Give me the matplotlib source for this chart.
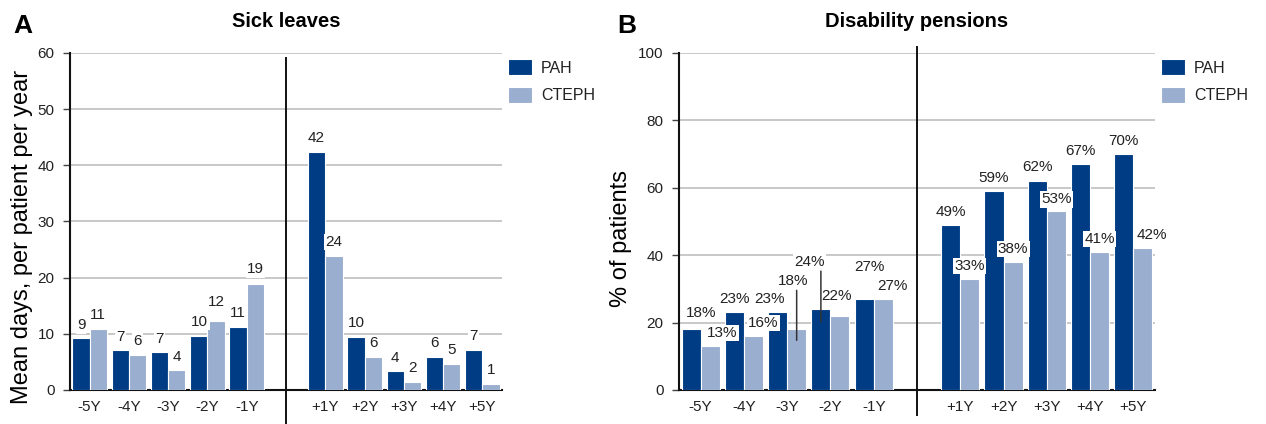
import numpy as np
import matplotlib.pyplot as plt
import matplotlib.transforms as mtransforms

plt.rcParams['font.family'] = ['Liberation Sans', 'DejaVu Sans']

# x positions: 5 years before, gap, 5 years after
years = ['-5Y', '-4Y', '-3Y', '-2Y', '-1Y', '+1Y', '+2Y', '+3Y', '+4Y', '+5Y']
xpos = [0, 1, 2, 3, 4, 6, 7, 8, 9, 10]

# A: sick leaves, mean days per patient per year
sick_pah = [9.2, 7.1, 6.7, 9.7, 11.3, 42.4, 9.5, 3.4, 5.8, 7.1]
sick_cteph = [10.9, 6.3, 3.6, 12.2, 18.8, 23.9, 5.8, 1.5, 4.6, 1.1]
sick_pah_lbl = ['9', '7', '7', '10', '11', '42', '10', '4', '6', '7']
sick_cteph_lbl = ['11', '6', '4', '12', '19', '24', '6', '2', '5', '1']

# B: disability pensions, % of patients
dis_pah = [18, 23, 23, 24, 27, 49, 59, 62, 67, 70]
dis_cteph = [13, 16, 18, 22, 27, 33, 38, 53, 41, 42]

PAH_C = '#003c84'
CTEPH_C = '#9aaed0'
W = 0.44

# label offsets in pixels (dx, dy) from bar top centre
sick_pah_off = [(0, 13), (0, 13), (0, 13), (1, 14), (0, 14), (0, 14), (0, 14), (0, 13), (0, 14), (0, 14)]
sick_cteph_off = [(0, 14), (0, 14), (0, 13), (0, 19), (0, 15), (0, 14), (0, 14), (0, 14), (0, 14), (0, 14)]
dis_pah_off = [(10, 16), (0, 13), (-8, 13), (-11, 47), (5, 32), (0, 13), (0, 13), (0, 14), (0, 13), (0, 13)]
dis_cteph_off = [(12, 13), (10, 13), (-4, 48), (-3, 20), (9, 13), (0, 13), (0, 13), (0, 12), (0, 13), (9, 13)]
# leader lines: index -> (pixels into bar, pixels above bar top)
dis_pah_lead = {3: (13, 38)}
dis_cteph_lead = {2: (11, 39)}


def label_bars(ax, xs, vals, lbls, offs, leads, suffix=''):
    fig = ax.figure
    for i, (x, v, t, o) in enumerate(zip(xs, vals, lbls, offs)):
        if i in leads:
            below, above = leads[i]
            tr = mtransforms.offset_copy(ax.transData, fig=fig, x=0, y=-below, units='dots')
            ax.annotate('', xy=(x, v), xycoords=tr, xytext=(0, below + above),
                        textcoords='offset pixels',
                        arrowprops=dict(arrowstyle='-', color='#333333', lw=1.1,
                                        shrinkA=0, shrinkB=0),
                        zorder=6)
        ax.annotate(f'{t}{suffix}', xy=(x, v), xytext=o, textcoords='offset pixels',
                    ha='center', va='center', fontsize=11, color='#222222',
                    bbox=dict(boxstyle='square,pad=0.08', fc='white', ec='none'),
                    zorder=5)


def draw_panel(ax, pah, cteph, pah_lbl, cteph_lbl, pah_off, cteph_off,
               pah_lead, cteph_lead, ymax, ystep, suffix, sep_top, sep_bot):
    x = np.array(xpos)
    ax.bar(x - W / 2, pah, W, color=PAH_C, edgecolor='white', linewidth=0.8,
           label='PAH', zorder=3)
    ax.bar(x + W / 2, cteph, W, color=CTEPH_C, edgecolor='white', linewidth=0.8,
           label='CTEPH', zorder=3)
    label_bars(ax, x - W / 2, pah, pah_lbl, pah_off, pah_lead, suffix)
    label_bars(ax, x + W / 2, cteph, cteph_lbl, cteph_off, cteph_lead, suffix)

    ax.set_xlim(-0.5, 10.5)
    ax.set_ylim(0, ymax)
    ax.set_yticks(np.arange(0, ymax + 1, ystep))
    ax.set_xticks(x)
    ax.set_xticklabels(years)
    ax.tick_params(axis='x', length=0, pad=7, labelsize=11, labelcolor='#222222')
    ax.tick_params(axis='y', length=5, width=1, color='#444444', pad=6,
                   labelsize=11, labelcolor='#222222')
    ax.grid(axis='y', color='#c8c8c8', lw=1.4, zorder=0)
    ax.set_axisbelow(True)
    for s in ['top', 'right']:
        ax.spines[s].set_visible(False)
    for s in ['left', 'bottom']:
        ax.spines[s].set_linewidth(1.5)
        ax.spines[s].set_color('#111111')

    # vertical separator between before / after
    tr = mtransforms.blended_transform_factory(ax.transData, ax.transAxes)
    ax.plot([5, 5], [sep_bot, sep_top], color='#111111', lw=1.4,
            transform=tr, clip_on=False, zorder=4)

    ax.legend(loc='upper left', bbox_to_anchor=(1.0, 1.0), frameon=False,
              fontsize=11.5, handlelength=1.5, handleheight=1.15,
              labelspacing=0.7, handletextpad=0.55, borderaxespad=0.0,
              labelcolor='#222222')


fig = plt.figure(figsize=(12.66, 4.24), dpi=100)
axA = fig.add_axes([0.0553, 0.0802, 0.3412, 0.7948])
axB = fig.add_axes([0.5363, 0.0802, 0.3760, 0.7948])

draw_panel(axA, sick_pah, sick_cteph, sick_pah_lbl, sick_cteph_lbl,
           sick_pah_off, sick_cteph_off, {}, {}, 60, 10, '', 0.985, -0.11)
draw_panel(axB, dis_pah, dis_cteph, dis_pah, dis_cteph,
           dis_pah_off, dis_cteph_off, dis_pah_lead, dis_cteph_lead,
           100, 20, '%', 1.018, -0.074)

axA.set_title('Sick leaves', fontsize=14.5, fontweight='bold', pad=18.5)
axB.set_title('Disability pensions', fontsize=14.5, fontweight='bold', pad=18.5)
axA.set_ylabel('Mean days, per patient per year', fontsize=17)
axB.set_ylabel('% of patients', fontsize=17)
axA.yaxis.set_label_coords(-0.086, 0.454)
axB.yaxis.set_label_coords(-0.099, 0.45)

fig.text(0.018, 0.922, 'A', fontsize=19, fontweight='bold', ha='center', va='baseline')
fig.text(0.495, 0.922, 'B', fontsize=19, fontweight='bold', ha='center', va='baseline')

fig.savefig('out.png', dpi=100)
